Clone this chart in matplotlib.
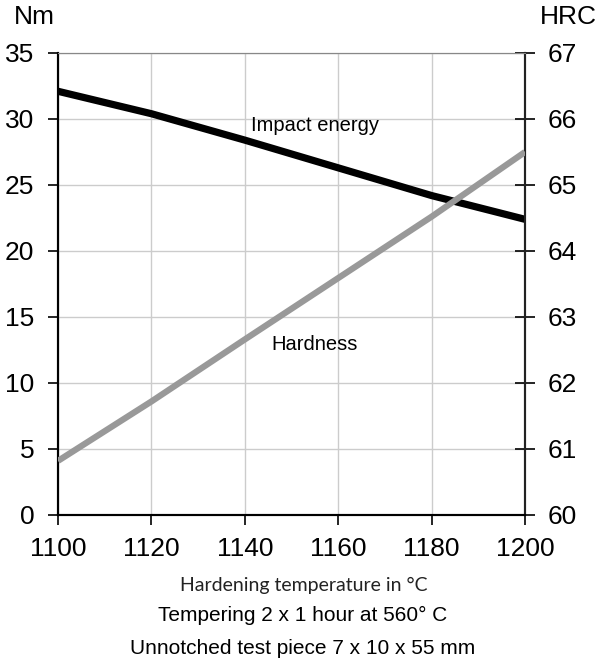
import numpy as np
import matplotlib
matplotlib.use('Agg')
import matplotlib.pyplot as plt

plt.rcParams['font.family'] = ['Liberation Sans', 'DejaVu Sans']

# Data
temperature = [1100, 1120, 1140, 1160, 1180, 1200]   # hardening temperature, deg C
impact_energy = [32.1, 30.4, 28.4, 26.3, 24.2, 22.4]  # Nm, left axis
hardness = [60.82, 61.72, 62.66, 63.59, 64.52, 65.5]  # HRC, right axis

x_ticks = [1100, 1120, 1140, 1160, 1180, 1200]
nm_ticks = [0, 5, 10, 15, 20, 25, 30, 35]
hrc_ticks = [60, 61, 62, 63, 64, 65, 66, 67]

fig = plt.figure(figsize=(6, 6.7), dpi=100)
ax = fig.add_axes([58/600, 1 - 515/670, (525-58)/600, (515-53)/670])
ax2 = ax.twinx()

ax.plot(temperature, impact_energy, color='black', lw=5.2, solid_capstyle='butt', zorder=3)
ax2.plot(temperature, hardness, color='#999999', lw=4.5, solid_capstyle='butt', zorder=3)

ax.set_xlim(1100, 1200)
ax.set_ylim(0, 35)
ax2.set_ylim(60, 67)
ax.set_xticks(x_ticks)
ax.set_yticks(nm_ticks)
ax2.set_yticks(hrc_ticks)

ax.grid(True, color='#cccccc', lw=1)
ax.set_axisbelow(True)

for a in (ax, ax2):
    a.spines['top'].set_color('#888888')
    a.spines['left'].set_linewidth(1.5)
    a.spines['bottom'].set_linewidth(1.5)
    a.spines['right'].set_linewidth(1.5)
    a.spines['right'].set_color('#222222')

ax.tick_params(axis='x', direction='out', length=7, width=1.2, labelsize=19, pad=9)
ax.tick_params(axis='y', direction='out', length=7, width=1.2, labelsize=19, pad=10)
ax2.tick_params(axis='y', direction='inout', length=14, width=1.2, labelsize=19, pad=9)

# curve labels, drawn on the twin axes so they sit above both lines
ax2.text(1155, 29.5, 'Impact energy', fontsize=14.5, ha='center', va='center',
         transform=ax.transData, zorder=5)
ax2.text(1155, 12.9, 'Hardness', fontsize=14.5, ha='center', va='center',
         transform=ax.transData, zorder=5)

fig.text(34/600, 1 - 17/670, 'Nm', fontsize=19, ha='center', va='center')
fig.text(568/600, 1 - 17/670, 'HRC', fontsize=19, ha='center', va='center')

fig.text(304/600, 1 - 585/670, 'Hardening temperature in °C', fontsize=14,
         family=['Lato', 'DejaVu Sans'], color='#222222', ha='center', va='center')
fig.text(303/600, 1 - 615/670, 'Tempering 2 x 1 hour at 560° C', fontsize=15,
         ha='center', va='center')
fig.text(303/600, 1 - 648/670, 'Unnotched test piece 7 x 10 x 55 mm', fontsize=15,
         ha='center', va='center')

fig.savefig('out.png', dpi=100)
